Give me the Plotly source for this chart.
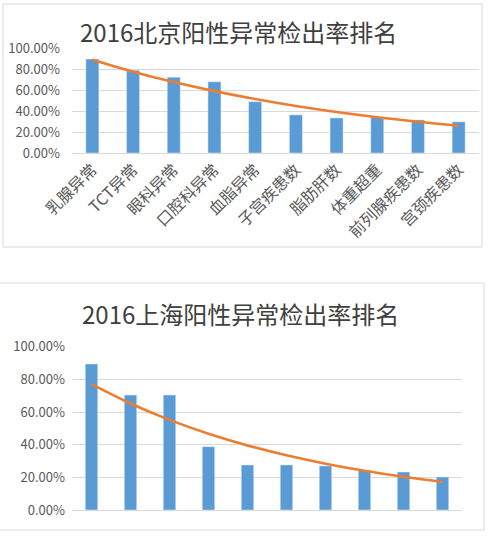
import numpy as np
import plotly.graph_objects as go

# Beijing ranking
bj_categories = ["乳腺异常", "TCT异常", "眼科异常", "口腔科异常", "血脂异常",
                 "子宫疾患数", "脂肪肝数", "体重超重", "前列腺疾患数", "宫颈疾患数"]
bj_rates = [0.895, 0.789, 0.722, 0.678, 0.489, 0.363, 0.334, 0.338, 0.315, 0.297]

# Shanghai ranking (x labels are cut off in the picture)
sh_ranks = [1, 2, 3, 4, 5, 6, 7, 8, 9, 10]
sh_rates = [0.894, 0.704, 0.704, 0.388, 0.276, 0.276, 0.270, 0.245, 0.233, 0.202]

y_ticks = [0, 0.2, 0.4, 0.6, 0.8, 1.0]

W, H = 490, 536
BAR = "#5B9BD5"
TREND = "#ED7D31"
GRID = "#D9D9D9"
FONT = "Noto Sans CJK SC"


def exp_trend(vals):
    # Excel-style exponential trendline
    x = np.arange(1, len(vals) + 1)
    b, a = np.polyfit(x, np.log(vals), 1)
    return np.exp(a + b * x)


def px_x(v):
    return v / W


def px_y(v):
    return 1 - v / H


fig = go.Figure()

fig.add_trace(go.Bar(x=bj_categories, y=bj_rates, marker_color=BAR,
                     xaxis="x", yaxis="y", showlegend=False))
fig.add_trace(go.Scatter(x=bj_categories, y=exp_trend(bj_rates), mode="lines",
                         line=dict(color=TREND, width=2.6, shape="spline"),
                         xaxis="x", yaxis="y", showlegend=False))

fig.add_trace(go.Bar(x=sh_ranks, y=sh_rates, marker_color=BAR,
                     xaxis="x2", yaxis="y2", showlegend=False))
fig.add_trace(go.Scatter(x=sh_ranks, y=exp_trend(sh_rates), mode="lines",
                         line=dict(color=TREND, width=2.6, shape="spline"),
                         xaxis="x2", yaxis="y2", showlegend=False))

yax = dict(range=[0, 1.0], tickvals=y_ticks, tickformat=".2%",
           showgrid=True, gridcolor=GRID, gridwidth=1, zeroline=False,
           showline=False, ticks="", ticklen=0, automargin=False,
           tickfont=dict(family=FONT, size=13, color="#595959"))

fig.update_layout(
    width=W, height=H,
    margin=dict(l=0, r=0, t=0, b=0),
    paper_bgcolor="white", plot_bgcolor="white",
    bargap=0.68,
    xaxis=dict(domain=[px_x(72), px_x(479)], anchor="y", type="category",
               showline=True, linecolor=GRID, ticks="", tickangle=-45,
               automargin=False,
               tickfont=dict(family=FONT, size=16, color="#595959")),
    yaxis=dict(domain=[px_y(153), px_y(48)], anchor="x",
               ticklabelstandoff=11, **yax),
    xaxis2=dict(domain=[px_x(72), px_x(462)], anchor="y2", type="category",
                showline=True, linecolor=GRID, ticks="", showticklabels=False,
                automargin=False),
    yaxis2=dict(domain=[px_y(510), px_y(346.7)], anchor="x2",
                ticklabelstandoff=6, **yax),
    shapes=[
        dict(type="rect", xref="paper", yref="paper",
             x0=px_x(3), x1=px_x(482), y0=px_y(247), y1=px_y(4),
             line=dict(color=GRID, width=1)),
        dict(type="rect", xref="paper", yref="paper",
             x0=px_x(-2), x1=px_x(484), y0=px_y(530), y1=px_y(283),
             line=dict(color=GRID, width=1)),
    ],
    annotations=[
        dict(text="2016北京阳性异常检出率排名", xref="paper", yref="paper",
             x=px_x(238), y=px_y(31), xanchor="center", yanchor="middle",
             showarrow=False, font=dict(family=FONT, size=24, color="#404040")),
        dict(text="2016上海阳性异常检出率排名", xref="paper", yref="paper",
             x=px_x(240), y=px_y(313), xanchor="center", yanchor="middle",
             showarrow=False, font=dict(family=FONT, size=24, color="#404040")),
    ],
)

# drop the default page margin so the figure sits at the window's corner
fig.write_html("out.html", config={"displayModeBar": False},
               post_script="document.body.style.margin='0';")
